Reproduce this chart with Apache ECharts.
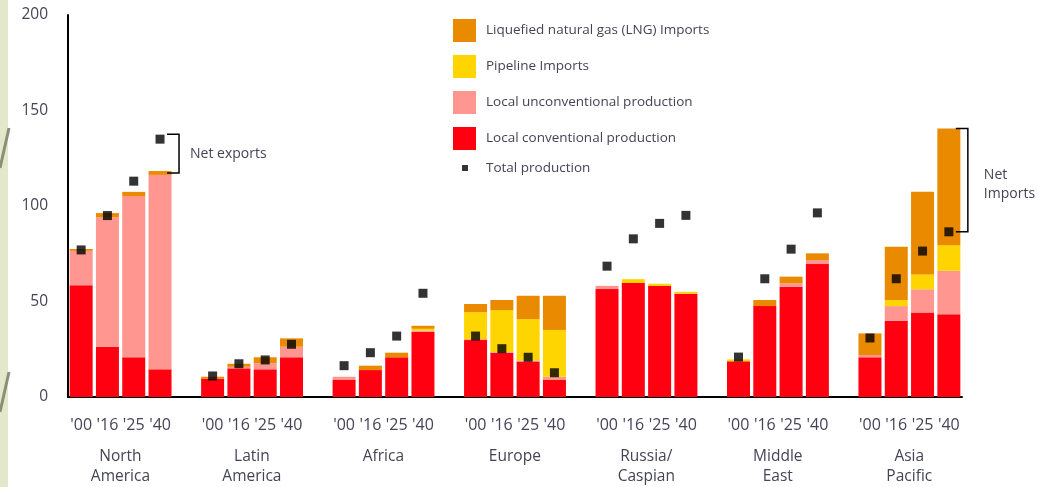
<!DOCTYPE html>
<html>
<head>
<meta charset="utf-8">
<script src="https://cdn.jsdelivr.net/npm/echarts@6/dist/echarts.min.js"></script>
<style>
html,body{margin:0;padding:0;background:#fff;}
#c{width:1037px;height:487px;}
</style>
</head>
<body>
<div id="c"></div>
<script>
// ---- data ----
var regions = ['North\nAmerica', 'Latin\nAmerica', 'Africa', 'Europe', 'Russia/\nCaspian', 'Middle\nEast', 'Asia\nPacific'];
var years = ["'00", "'16", "'25", "'40"];
var yTicks = [0, 50, 100, 150, 200];
// per region, per year
var conventional = [
  [58.5, 26.3, 20.8, 14.5],
  [9.6, 15.0, 14.5, 20.8],
  [8.9, 14.1, 20.8, 34.2],
  [29.8, 23.2, 18.6, 8.9],
  [56.5, 59.7, 58.2, 54.1],
  [18.7, 47.6, 57.7, 69.6],
  [20.8, 39.9, 44.3, 43.3]
];
var unconventional = [
  [18.0, 67.7, 84.4, 101.8],
  [0, 0.8, 3.1, 5.5],
  [1.7, 0, 0, 0.5],
  [0.5, 0.3, 0.5, 1.7],
  [1.7, 0, 0, 0],
  [0, 0, 1.8, 2.1],
  [1.2, 7.7, 12.1, 22.8]
];
var pipeline = [
  [0, 0, 0, 0],
  [0, 0, 0, 0],
  [0, 0, 0, 1.0],
  [14.1, 22.0, 21.7, 24.5],
  [0, 2.0, 1.1, 1.0],
  [1.0, 0, 0, 0],
  [0, 3.2, 7.8, 13.4]
];
var lng = [
  [1.0, 2.3, 2.2, 2.0],
  [1.0, 1.6, 3.2, 4.4],
  [0, 2.3, 2.4, 1.6],
  [4.3, 5.3, 12.2, 17.9],
  [0, 0, 0, 0],
  [0, 3.2, 3.5, 3.5],
  [11.3, 27.8, 43.2, 61.1]
];
var totalProduction = [
  [77.0, 95.0, 113.0, 135.0],
  [11.0, 17.4, 19.4, 27.6],
  [16.4, 23.2, 31.9, 54.3],
  [31.9, 25.3, 20.8, 12.7],
  [68.5, 82.8, 90.9, 95.1],
  [20.9, 61.9, 77.4, 96.4],
  [30.9, 61.9, 76.4, 86.5]
];
// annotations: [region index, year index, label]
var annotations = [
  [0, 3, 'Net exports'],
  [6, 3, 'Net\nImports']
];

// ---- build slot axis (4 bars per region, one empty slot between regions) ----
var cats = [], slotOf = [];
for (var g = 0; g < regions.length; g++) {
  slotOf.push([]);
  for (var y = 0; y < years.length; y++) {
    slotOf[g].push(cats.length);
    cats.push(regions[g].replace('\n', ' ') + ' ' + years[y]);
  }
  if (g < regions.length - 1) cats.push('gap' + g);
}
function toSlots(arr) {
  var out = cats.map(function () { return '-'; });
  arr.forEach(function (row, g) { row.forEach(function (v, y) { out[slotOf[g][y]] = v; }); });
  return out;
}
function yearLabel(v, i) {
  for (var g = 0; g < slotOf.length; g++) {
    var k = slotOf[g].indexOf(i);
    if (k >= 0) return years[k];
  }
  return '';
}
function regionLabel(v, i) {
  for (var g = 0; g < slotOf.length; g++) {
    if (slotOf[g][1] === i) return regions[g];
  }
  return '';
}
var barTop = function (g, y) { return conventional[g][y] + unconventional[g][y] + pipeline[g][y] + lng[g][y]; };
var bracketData = annotations.map(function (a) {
  var g = a[0], y = a[1];
  var top = Math.max(barTop(g, y), totalProduction[g][y]);
  var bot = Math.min(barTop(g, y), totalProduction[g][y]);
  return { value: [slotOf[g][y], top, bot], label: a[2], exportSide: totalProduction[g][y] > barTop(g, y) };
});

var FONT = 'Open Sans';
var txt = '#444456';
var C_CONV = '#ff0011', C_UNC = '#ff968f', C_PIPE = '#ffd500', C_LNG = '#ea8a00';

var chart = echarts.init(document.getElementById('c'), null, { renderer: 'canvas' });
var barW = 23;
chart.setOption({
  animation: false,
  backgroundColor: '#ffffff',
  textStyle: { fontFamily: FONT },
  graphic: [
    { type: 'rect', left: 0, top: 0, shape: { width: 8, height: 487 }, style: { fill: '#e3e8cb' }, silent: true },
    { type: 'line', shape: { x1: 9, y1: 128, x2: 0, y2: 168 }, style: { stroke: '#8e8e78', lineWidth: 3 }, silent: true },
    { type: 'line', shape: { x1: 9, y1: 372, x2: 0, y2: 412 }, style: { stroke: '#8e8e78', lineWidth: 3 }, silent: true }
  ],
  grid: { left: 68, right: 75, top: 15, bottom: 90, containLabel: false },
  legend: [
    {
      data: ['Liquefied natural gas (LNG) Imports', 'Pipeline Imports', 'Local unconventional production', 'Local conventional production'],
      orient: 'vertical', left: 453, top: 19, padding: 0, itemWidth: 23, itemHeight: 23, itemGap: 13,
      selectedMode: false, icon: 'rect',
      textStyle: { fontFamily: FONT, fontSize: 13.5, color: txt, padding: [0, 0, 0, 5] }
    },
    {
      data: [{ name: 'Total production', icon: 'rect' }],
      orient: 'vertical', left: 462, top: 161, padding: 0, itemWidth: 6, itemHeight: 6,
      selectedMode: false,
      textStyle: { fontFamily: FONT, fontSize: 13.5, color: txt, padding: [0, 0, 0, 13] }
    }
  ],
  xAxis: [
    {
      type: 'category', data: cats, boundaryGap: true,
      axisLine: { show: true, lineStyle: { color: '#000', width: 2 } },
      axisTick: { show: false },
      axisLabel: { interval: 0, formatter: yearLabel, fontFamily: FONT, fontSize: 16, color: txt, margin: 18, lineHeight: 20 }
    },
    {
      type: 'category', data: cats, boundaryGap: true, position: 'bottom',
      axisLine: { show: false }, axisTick: { show: false },
      axisLabel: { interval: 0, formatter: regionLabel, fontFamily: FONT, fontSize: 15.5, color: txt, margin: 50, lineHeight: 20, padding: [0, 0, 0, 26] }
    }
  ],
  yAxis: {
    type: 'value', min: yTicks[0], max: yTicks[yTicks.length - 1], interval: 50,
    axisLine: { show: true, lineStyle: { color: '#000', width: 2 } },
    axisTick: { show: false },
    splitLine: { show: false },
    axisLabel: { fontFamily: FONT, fontSize: 15.5, color: txt, margin: 20 }
  },
  series: [
    { name: 'Local conventional production', type: 'bar', stack: 's', barWidth: barW, data: toSlots(conventional), itemStyle: { color: C_CONV } },
    { name: 'Local unconventional production', type: 'bar', stack: 's', barWidth: barW, data: toSlots(unconventional), itemStyle: { color: C_UNC } },
    { name: 'Pipeline Imports', type: 'bar', stack: 's', barWidth: barW, data: toSlots(pipeline), itemStyle: { color: C_PIPE } },
    { name: 'Liquefied natural gas (LNG) Imports', type: 'bar', stack: 's', barWidth: barW, data: toSlots(lng), itemStyle: { color: C_LNG } },
    { name: 'Total production', type: 'scatter', symbol: 'rect', symbolSize: 9, data: toSlots(totalProduction), itemStyle: { color: '#000' }, z: 5 },
    {
      name: 'bracket', type: 'custom', z: 6, silent: true,
      data: bracketData,
      renderItem: function (params, api) {
        var d = bracketData[params.dataIndex];
        var pt = api.coord([api.value(0), api.value(1)]);
        var pb = api.coord([api.value(0), api.value(2)]);
        var x = pt[0];
        var top = pt[1] + (d.exportSide ? -5 : 0);
        var bot = pb[1] + (d.exportSide ? 2 : 0);
        var xv = x + 19;
        return {
          type: 'group',
          children: [
            { type: 'polyline', shape: { points: [[x + 7, top], [xv, top], [xv, bot], [x + 7, bot]] }, style: { stroke: '#000', lineWidth: 1.5, fill: null } },
            { type: 'text', style: { x: xv + (d.exportSide ? 11 : 16), y: (top + bot) / 2 + (d.exportSide ? 0 : 4), text: d.label, fill: txt, font: '14px "' + FONT + '"', align: 'left', verticalAlign: 'middle', lineHeight: 19 } }
          ]
        };
      }
    }
  ]
});
</script>
</body>
</html>
